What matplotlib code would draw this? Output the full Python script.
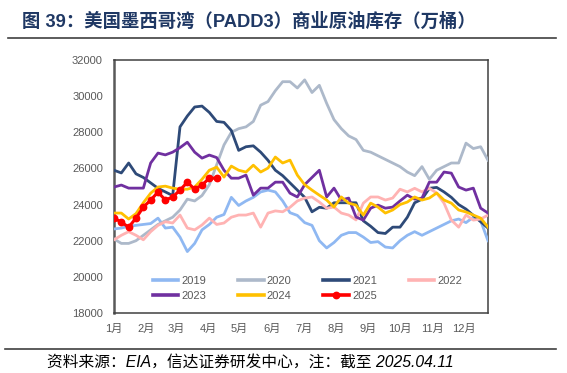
import numpy as np
import matplotlib
matplotlib.use("Agg")
import matplotlib.pyplot as plt
from matplotlib.lines import Line2D

plt.rcParams['font.family'] = ['Liberation Sans', 'Noto Sans CJK SC', 'DejaVu Sans']

# ---------------- data (weekly commercial crude stocks, 万桶) ----------------
years = ["2019", "2020", "2021", "2022", "2023", "2024", "2025"]

s2019 = [22650, 22700, 22800, 22850, 22900, 22950, 23250, 22700, 22750, 22200,
         21400, 21850, 22600, 22900, 23300, 23450, 24400, 23950, 24200, 24400,
         24700, 24800, 24700, 24200, 23550, 23400, 23000, 22850, 22000, 21600,
         21900, 22300, 22450, 22450, 22200, 21900, 21950, 21650, 21600, 22000,
         22300, 22500, 22300, 22500, 22700, 22900, 23100, 23200, 23000, 23300,
         23100, 22000]
s2020 = [22100, 21850, 21850, 22000, 22300, 22600, 22900, 23100, 23300, 23700,
         24300, 24200, 24500, 25100, 26200, 27300, 28000, 28200, 28300, 28600,
         29500, 29700, 30300, 30800, 30800, 30450, 30900, 30200, 30600, 29600,
         28700, 28200, 27800, 27600, 27000, 26900, 26700, 26500, 26300, 26100,
         25800, 25600, 26100, 25400, 25900, 26100, 26300, 26300, 27400, 27100,
         27200, 26450]
s2021 = [25900, 25750, 26300, 25700, 25500, 25200, 24900, 24700, 24500, 28300,
         28900, 29400, 29450, 29100, 28600, 28550, 28100, 27000, 27200, 27250,
         26900, 26450, 25900, 25600, 25200, 24800, 24400, 23600, 23850, 23800,
         24100, 24100, 24100, 24100, 23100, 22800, 22450, 22400, 22750, 22750,
         23300, 24100, 24300, 24900, 24950, 24700, 24400, 24000, 23750, 23400,
         23050, 22700]
s2022 = [22050, 22300, 22500, 22300, 22050, 22500, 22850, 23050, 22980, 23420,
         22700, 22600, 22870, 23250, 22900, 22980, 23300, 23420, 23420, 23530,
         22750, 23530, 23650, 23600, 23850, 24200, 24360, 24420, 24140, 23800,
         23860, 23530, 23420, 23150, 24080, 24420, 24420, 24250, 24360, 24850,
         24700, 24900, 24700, 24900, 24640, 24080, 23140, 22750, 23420, 23140,
         23200, 23420]
s2023 = [24970, 25080, 24910, 24910, 24910, 26300, 26850, 26750, 26900, 27150,
         27450, 26900, 26570, 26740, 26600, 25900, 25460, 25460, 25630, 24520,
         24910, 24910, 25240, 25240, 24630, 24420, 25100, 25500, 25900, 24420,
         24910, 24250, 24360, 23310, 23140, 23800, 23970, 23800, 23860, 24200,
         24520, 24300, 24360, 25240, 25240, 25800, 25740, 24970, 24800, 24910,
         23800, 23530]
s2024 = [23530, 23530, 23200, 23500, 24100, 24630, 24970, 25020, 24910, 24850,
         24850, 24970, 25400, 25900, 26070, 25520, 26130, 25900, 25800, 26180,
         25800, 26020, 26630, 26300, 26460, 25630, 25100, 24800, 24520, 24250,
         23860, 24420, 24080, 23970, 23420, 24080, 23860, 23530, 23700, 24000,
         24140, 24420, 24250, 24360, 24640, 24250, 24080, 23700, 23590, 23420,
         23250, 22750]
s2025 = [23250, 23030, 22750, 23250, 23860, 24250, 24690, 24250, 24420, 24800,
         25240, 24850, 25080, 25460, 25460]

month_labels = ["1月", "2月", "3月", "4月", "5月", "6月", "7月", "8月", "9月", "10月", "11月", "12月"]
month_start_day = [0, 31, 59, 90, 120, 151, 181, 212, 243, 273, 304, 334]
yticks = [18000, 20000, 22000, 24000, 26000, 28000, 30000, 32000]

series = [s2019, s2020, s2021, s2022, s2023, s2024, s2025]
colors = ["#8FB8F2", "#ADB9CA", "#2E4A78", "#FFB3B3", "#7030A0", "#FFC000", "#FF0000"]

# ---------------- figure ----------------
W, H = 567, 373
fig = plt.figure(figsize=(W / 100, H / 100), dpi=100)
ax = fig.add_axes([114 / W, 1 - 313 / H, (488 - 114) / W, (313 - 60) / H])

handles = {}
for name, vals, c in zip(years, series, colors):
    x = np.arange(len(vals))
    if name == "2025":
        h, = ax.plot(x, vals, color=c, lw=2.2, marker="o", markersize=4.6, zorder=5)
    else:
        h, = ax.plot(x, vals, color=c, lw=2.0, zorder=3)
    handles[name] = h

ax.set_xlim(0, 51)
ax.set_ylim(18000, 32000)
ax.set_yticks(yticks)
ax.set_yticklabels([str(v) for v in yticks])
ax.set_xticks([d / 7 for d in month_start_day])
ax.set_xticklabels(month_labels)
ax.tick_params(axis="both", length=0, labelsize=8, labelcolor="#595959")
ax.tick_params(axis="y", pad=8)
ax.tick_params(axis="x", pad=8)
for sp in ax.spines.values():
    sp.set_color("#404040")
    sp.set_linewidth(1.1)
ax.spines["left"].set_color("#595959")
ax.spines["left"].set_linewidth(1.8)

# legend: row-wise order in 4 columns
order = ["2019", "2023", "2020", "2024", "2021", "2025", "2022"]
leg = fig.legend([handles[k] for k in order], order, ncol=4, loc="upper left",
                 bbox_to_anchor=(147 / W, 1 - 270 / H), frameon=False,
                 borderpad=0, handlelength=2.3, handletextpad=0.3,
                 columnspacing=2.85, labelspacing=0.45, fontsize=8)
for t in leg.get_texts():
    t.set_color("#595959")
for l in leg.get_lines():
    l.set_linewidth(2.6)

# title and rules
fig.text(22 / W, 1 - 22 / H, "图 39：美国墨西哥湾（PADD3）商业原油库存（万桶）",
         fontsize=13.2, fontweight="bold", color="#1F3864", va="center", ha="left")
fig.add_artist(Line2D([8 / W, 556 / W], [1 - 38 / H, 1 - 38 / H], color="#404040", lw=1.2))
fig.add_artist(Line2D([5 / W, 556 / W], [1 - 349 / H, 1 - 349 / H], color="#404040", lw=1.2))
fig.text(47 / W, 1 - 362 / H, "资料来源：EIA，信达证券研发中心，注：截至 2025.04.11",
         fontsize=11.3, style="italic", color="#000000", va="center", ha="left")

fig.savefig("out.png", dpi=100)
